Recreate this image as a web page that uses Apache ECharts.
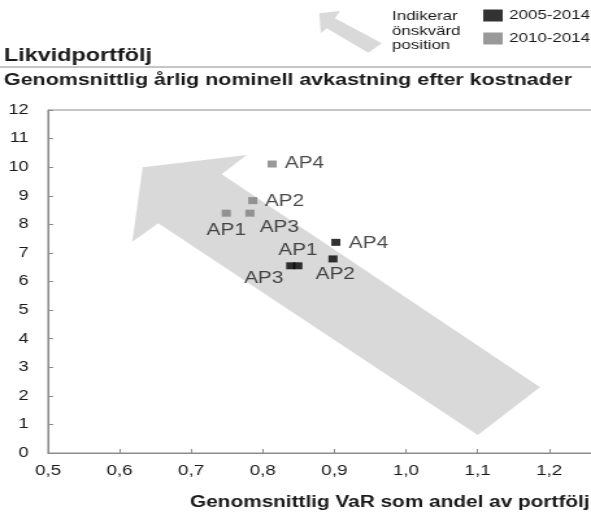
<!DOCTYPE html>
<html>
<head>
<meta charset="utf-8">
<script src="https://cdn.jsdelivr.net/npm/echarts@6/dist/echarts.min.js"></script>
<style>
html,body{margin:0;padding:0;overflow:hidden;background:#fff;width:591px;height:514px;}
#chart{width:455px;height:514px;transform:scaleX(1.2989);transform-origin:0 0;}
</style>
</head>
<body>
<div id="chart"></div>
<script>
// ---- data ----
const pointNames = ['AP1', 'AP2', 'AP3', 'AP4'];
const var0514 = [0.849, 0.898, 0.839, 0.902];
const ret0514 = [6.55, 6.79, 6.55, 7.37];
const var1014 = [0.749, 0.786, 0.782, 0.813];
const ret1014 = [8.39, 8.83, 8.39, 10.11];
const seriesNames = ['2005-2014', '2010-2014'];
const xMin = 0.5, xMax = 1.3, xStep = 0.1;
const yMin = 0, yMax = 12, yStep = 1;
const titleText = 'Likvidportfölj';
const subTitleText = 'Genomsnittlig årlig nominell avkastning efter kostnader';
const xAxisTitle = 'Genomsnittlig VaR som andel av portfölj';
const noteLines = ['Indikerar', 'önskvärd', 'position'];

// ---- styling (not data) ----
const S = 591 / 455; // horizontal stretch of the reference
const FONT = '"Liberation Sans", Arial, sans-serif';
const TXT = '#1a1a1a';
const labelOff0514 = {AP1: [0, -14.7], AP2: [2.3, 16], AP3: [-27, 12.6], AP4: [32.7, 1.7]};
const labelOff1014 = {AP1: [0, 17], AP2: [31.7, 1], AP3: [29.4, 14], AP4: [32.3, 0]};
const bigArrow = [[142.7,167.3],[246.7,155],[221.7,174.3],[540,387.3],[477.7,435],[158.3,223.3],[132.3,241.7]];
const smallArrow = [[319.3,13.3],[340,11],[335,18.3],[381.7,43.3],[368.3,52.7],[326.7,28.3],[320.7,33.3]];
const loc = pts => pts.map(p => [p[0] / S, p[1]]);

function buildData(xs, ys, offs) {
  return pointNames.map((n, i) => ({
    name: n,
    value: [xs[i], ys[i]],
    label: {offset: [offs[n][0] / S, offs[n][1]]}
  }));
}

const chart = echarts.init(document.getElementById('chart'));
const fmt = v => v.toFixed(1).replace('.', ',');

const option = {
  animation: false,
  backgroundColor: '#fff',
  textStyle: {fontFamily: FONT},
  grid: {left: 48 / S, top: 110, bottom: 61, right: 455 - (48 + 8 * 71.6) / S,
    outerBoundsMode: 'none', containLabel: false,
    show: true, borderColor: '#8c8c8c', borderWidth: 1, backgroundColor: 'transparent'},
  legend: {
    orient: 'vertical', left: 372, top: 9, padding: 0, itemWidth: 15, itemHeight: 12, itemGap: 10,
    icon: 'rect', textStyle: {fontSize: 13, color: TXT, fontFamily: FONT},
    data: seriesNames
  },
  xAxis: {
    type: 'value', min: xMin, max: xMax, interval: xStep,
    splitLine: {show: false},
    axisLine: {lineStyle: {color: '#8c8c8c'}},
    axisTick: {show: true, inside: true, length: 4, lineStyle: {color: '#8c8c8c'}},
    axisLabel: {formatter: fmt, fontSize: 14.5, color: TXT, margin: 10, fontFamily: FONT}
  },
  yAxis: {
    type: 'value', min: yMin, max: yMax, interval: yStep,
    splitLine: {show: false},
    axisLine: {show: true, lineStyle: {color: '#8c8c8c'}},
    axisTick: {show: true, inside: true, length: 4, lineStyle: {color: '#8c8c8c'}},
    axisLabel: {fontSize: 14, color: TXT, margin: 15, fontFamily: FONT}
  },
  series: [
    {
      name: seriesNames[0], type: 'scatter', symbol: 'rect', symbolSize: [7, 7], z: 3,
      itemStyle: {color: '#000000'},
      label: {show: true, position: 'inside', formatter: '{b}', fontSize: 16, color: TXT,
        fontFamily: FONT, align: 'center', verticalAlign: 'middle'},
      data: buildData(var0514, ret0514, labelOff0514)
    },
    {
      name: seriesNames[1], type: 'scatter', symbol: 'rect', symbolSize: [7, 7], z: 3,
      itemStyle: {color: '#7f7f7f'},
      label: {show: true, position: 'inside', formatter: '{b}', fontSize: 16, color: TXT,
        fontFamily: FONT, align: 'center', verticalAlign: 'middle'},
      data: buildData(var1014, ret1014, labelOff1014)
    }
  ],
  graphic: [
    {type: 'polygon', z: 0, shape: {points: loc(bigArrow)}, style: {fill: '#d9d9d9'}},
    {type: 'polygon', z: 0, shape: {points: loc(smallArrow)}, style: {fill: '#d9d9d9'}},
    {type: 'text', x: 4 / S, y: 56.5, style: {text: titleText, font: 'bold 18px ' + FONT, fill: TXT, verticalAlign: 'middle'}},
    {type: 'line', shape: {x1: 0, y1: 67, x2: 455, y2: 67}, style: {stroke: '#8c8c8c', lineWidth: 1}},
    {type: 'text', x: 4 / S, y: 80.5, style: {text: subTitleText, font: 'bold 16.5px ' + FONT, fill: TXT, verticalAlign: 'middle'}},
    {type: 'text', x: 190 / S, y: 503, style: {text: xAxisTitle, font: 'bold 16px ' + FONT, fill: TXT, verticalAlign: 'middle'}},
    {type: 'text', x: 392 / S, y: 16, style: {text: noteLines[0], font: '13px ' + FONT, fill: TXT, verticalAlign: 'middle'}},
    {type: 'text', x: 392 / S, y: 31, style: {text: noteLines[1], font: '13px ' + FONT, fill: TXT, verticalAlign: 'middle'}},
    {type: 'text', x: 392 / S, y: 45.5, style: {text: noteLines[2], font: '13px ' + FONT, fill: TXT, verticalAlign: 'middle'}}
  ]
};
chart.setOption(option);
</script>
</body>
</html>
